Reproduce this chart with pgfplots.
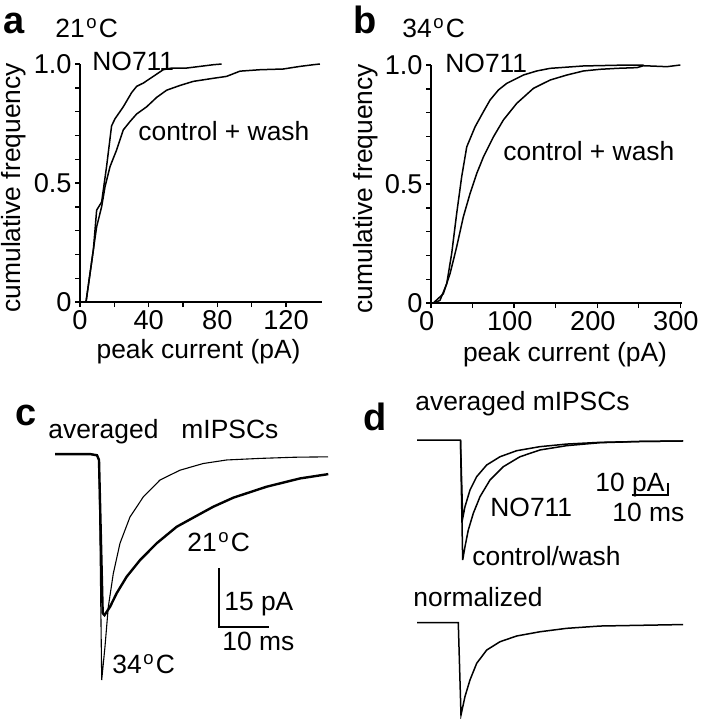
\documentclass[border=0pt]{standalone}
\usepackage{pgfplots}
\pgfplotsset{compat=1.18}
\usepackage{fontspec}
\setmainfont{Liberation Sans}
\newcommand{\lbl}{\fontsize{13.2}{15}\selectfont}
\newcommand{\tkl}{\fontsize{13.6}{16}\selectfont}
\newcommand{\pnl}{\fontsize{19}{21}\selectfont\bfseries}
\newcommand{\degC}{\kern0.8pt\textsuperscript{o}\kern0.6pt C}
\pgfplotsset{
  cdf/.style={scale only axis, anchor=south west, axis lines=left,
    axis line style={-, line width=0.7pt}, tick align=outside,
    major tick length=2.5pt, minor tick length=2.5pt,
    tick style={black, line width=0.7pt},
    ticklabel style={font=\tkl}, label style={font=\lbl},
    xticklabel style={inner ysep=1.5pt},
    yticklabel style={inner xsep=1.5pt},
    /pgf/number format/assume math mode=true, clip=false,
    ymin=0, ymax=1, ytick={0,0.5,1}, yticklabels={0,0.5,1.0},
    minor ytick={0.1,0.2,0.3,0.4,0.6,0.7,0.8,0.9}, height=119pt},
  trace/.style={scale only axis, anchor=south west, axis lines=none, clip=false},
}
\begin{document}
\begin{tikzpicture}
\path[use as bounding box] (0,0) rectangle (350.5pt,-359.5pt);

% ---------- panel a ----------
\begin{axis}[cdf, at={(40pt,-151pt)}, width=121pt, xmin=0, xmax=141,
  xtick={0,40,80,120}, minor xtick={20,60,100},
  xlabel={peak current (pA)}, ylabel={cumulative frequency},
  xlabel style={at={(axis description cs:0.49,0)}, anchor=base, yshift=-28pt},
  ylabel style={at={(axis description cs:-0.244,0.48)}, anchor=base}]
\addplot[black, line width=0.75pt] coordinates {
(3.5,0) (7.8,0.22) (9.7,0.386) (12.6,0.42) (15.5,0.57) (18.4,0.74) (20.4,0.77)
(25.2,0.82) (30.1,0.88) (33.0,0.906) (36.9,0.92) (42.7,0.948) (48.5,0.976)
(53.4,0.983) (62.1,0.983) (69.9,0.99) (77.7,0.997) (82.5,1.0)};
\addplot[black, line width=0.75pt] coordinates {
(3.5,0) (7.8,0.22) (9.7,0.316) (12.6,0.40) (14.6,0.485) (17.5,0.569) (21.4,0.64)
(25.2,0.723) (29.1,0.758) (33.0,0.79) (38.8,0.82) (44.7,0.86) (50.5,0.89)
(58.3,0.91) (66.0,0.927) (77.7,0.94) (85.4,0.948) (93.2,0.97) (104.9,0.976)
(118.4,0.979) (128.2,0.99) (135.9,0.997) (139.8,1.0)};
\end{axis}

% ---------- panel b ----------
\begin{axis}[cdf, at={(215.5pt,-151.5pt)}, width=125.5pt, xmin=0, xmax=302,
  xtick={0,100,200,300}, minor xtick={50,150,250},
  xticklabel style={xshift=-2.2pt},
  xlabel={peak current (pA)}, ylabel={cumulative frequency},
  xlabel style={at={(axis description cs:0.534,0)}, anchor=base, yshift=-29.3pt},
  ylabel style={at={(axis description cs:-0.235,0.48)}, anchor=base}]
\addplot[black, line width=0.75pt] coordinates {
(2.8,0) (10.8,0.011) (18.9,0.081) (24.9,0.208) (30.9,0.376) (36.9,0.53)
(43.0,0.656) (53.0,0.74) (63.1,0.804) (71.1,0.853) (81.1,0.895) (91.2,0.923)
(111.2,0.958) (127.3,0.975) (143.4,0.986) (183.5,0.996) (223.7,0.999) (255.8,1.0)};
\addplot[black, line width=0.75pt] coordinates {
(2.8,0) (14.9,0.039) (22.9,0.123) (30.9,0.236) (38.9,0.362) (47.0,0.46)
(55.0,0.544) (63.1,0.614) (75.1,0.698) (87.1,0.769) (103.2,0.839) (123.3,0.902)
(143.4,0.937) (163.5,0.958) (183.5,0.975) (203.6,0.982) (223.7,0.986)
(247.8,0.989) (255.8,0.997) (283.9,0.993) (300,1.0)};
\end{axis}

% ---------- panel c ----------
\begin{axis}[trace, at={(27.5pt,-344.9pt)}, width=140pt, height=121.8pt,
  xmin=0, xmax=56, ymin=-60, ymax=2]
% 34 C (thin)
\addplot[black, line width=0.55pt] coordinates {
(0,0) (7,0) (8.4,-0.3) (8.8,-1.5) (9.34,-57.5) (10,-49.0) (10.66,-38.9)
(11.66,-30.4) (13,-22.7) (15,-16.0) (17.66,-10.9) (21,-6.6) (25,-4.1)
(29.66,-2.4) (34.34,-1.5) (41,-1.1) (48,-0.8) (54.6,-0.7)};
% 21 C (thick)
\addplot[black, line width=1.2pt] coordinates {
(0,0) (7,0) (8.4,-0.3) (8.8,-1.5) (9.54,-40.5) (9.9,-41.0) (11,-38.9)
(12.34,-35.4) (14.34,-31.2) (17,-27.0) (20.34,-22.7) (24.34,-18.5)
(28.34,-15.7) (31.66,-13.4) (35.66,-11.1) (42.34,-8.3) (49,-6.2) (54.66,-5.1)};
% scale bar 10 ms / 15 pA
\addplot[black, line width=0.65pt] coordinates {(32.8,-29) (32.8,-44) (42.8,-44)};
\end{axis}

% ---------- panel d, averaged ----------
\begin{axis}[trace, at={(208.5pt,-281.5pt)}, width=135pt, height=62.73pt,
  xmin=0, xmax=75, ymin=-100, ymax=2]
% NO711
\addplot[black, line width=0.75pt] coordinates {
(0,0) (12.08,0) (12.69,-63.7) (13.33,-54.2) (14.72,-40.7) (16.58,-29.8)
(19.36,-20.3) (23.06,-13.6) (27.69,-8.7) (34.17,-5.4) (41.58,-3.3)
(50.83,-1.9) (61.9,-1.2) (73.9,-0.8)};
% control/wash
\addplot[black, line width=0.75pt] coordinates {
(12.08,0) (12.69,-97.6) (13.33,-86.7) (14.25,-73.2) (15.64,-59.6) (17.5,-46.1)
(20.28,-32.5) (23.97,-21.7) (28.61,-13.6) (34.17,-8.1) (41.58,-4.6)
(50.83,-2.2) (61.9,-1.2) (73.9,-0.8)};
% scale bar 10 ms / 10 pA
\addplot[black, line width=0.65pt] coordinates {(59.7,-44.7) (69.7,-44.7) (69.7,-34.7)};
\end{axis}

% ---------- panel d, normalized ----------
\begin{axis}[trace, at={(208.5pt,-357.5pt)}, width=135pt, height=48.46pt,
  xmin=0, xmax=75, ymin=-1, ymax=0.05]
\addplot[black, line width=0.75pt] coordinates {
(0,0) (11.47,0) (12.22,-1) (13.33,-0.80) (14.72,-0.62) (16.58,-0.44)
(19.36,-0.296) (23.06,-0.206) (27.69,-0.144) (34.17,-0.098) (41.58,-0.061)
(50.83,-0.036) (73.9,-0.02)};
\end{axis}

% ---------- text ----------
\begin{scope}[every node/.style={inner sep=0pt, anchor=base west, font=\lbl}]
\node at (1.5pt,-16.5pt) {\pnl a};
\node at (27.5pt,-18.5pt) {21\degC};
\node at (46pt,-35pt) {NO711};
\node at (69pt,-70pt) {control + wash};
\node at (176.5pt,-16.5pt) {\pnl b};
\node at (201pt,-18.5pt) {34\degC};
\node at (222.5pt,-36pt) {NO711};
\node at (251.5pt,-80pt) {control + wash};
\node at (7.5pt,-212.5pt) {\pnl c};
\node at (24pt,-219pt) {averaged\hspace{11.5pt}mIPSCs};
\node at (93.5pt,-275.8pt) {21\degC};
\node at (112pt,-305pt) {15 pA};
\node at (111pt,-325pt) {10 ms};
\node at (56pt,-336.5pt) {34\degC};
\node at (181.5pt,-215pt) {\pnl d};
\node at (207.5pt,-205pt) {averaged mIPSCs};
\node at (245pt,-258.3pt) {NO711};
\node at (297.5pt,-245.8pt) {10 pA};
\node at (306pt,-260.8pt) {10 ms};
\node at (236pt,-282.5pt) {control/wash};
\node at (206.5pt,-303.3pt) {normalized};
\end{scope}
\end{tikzpicture}
\end{document}
